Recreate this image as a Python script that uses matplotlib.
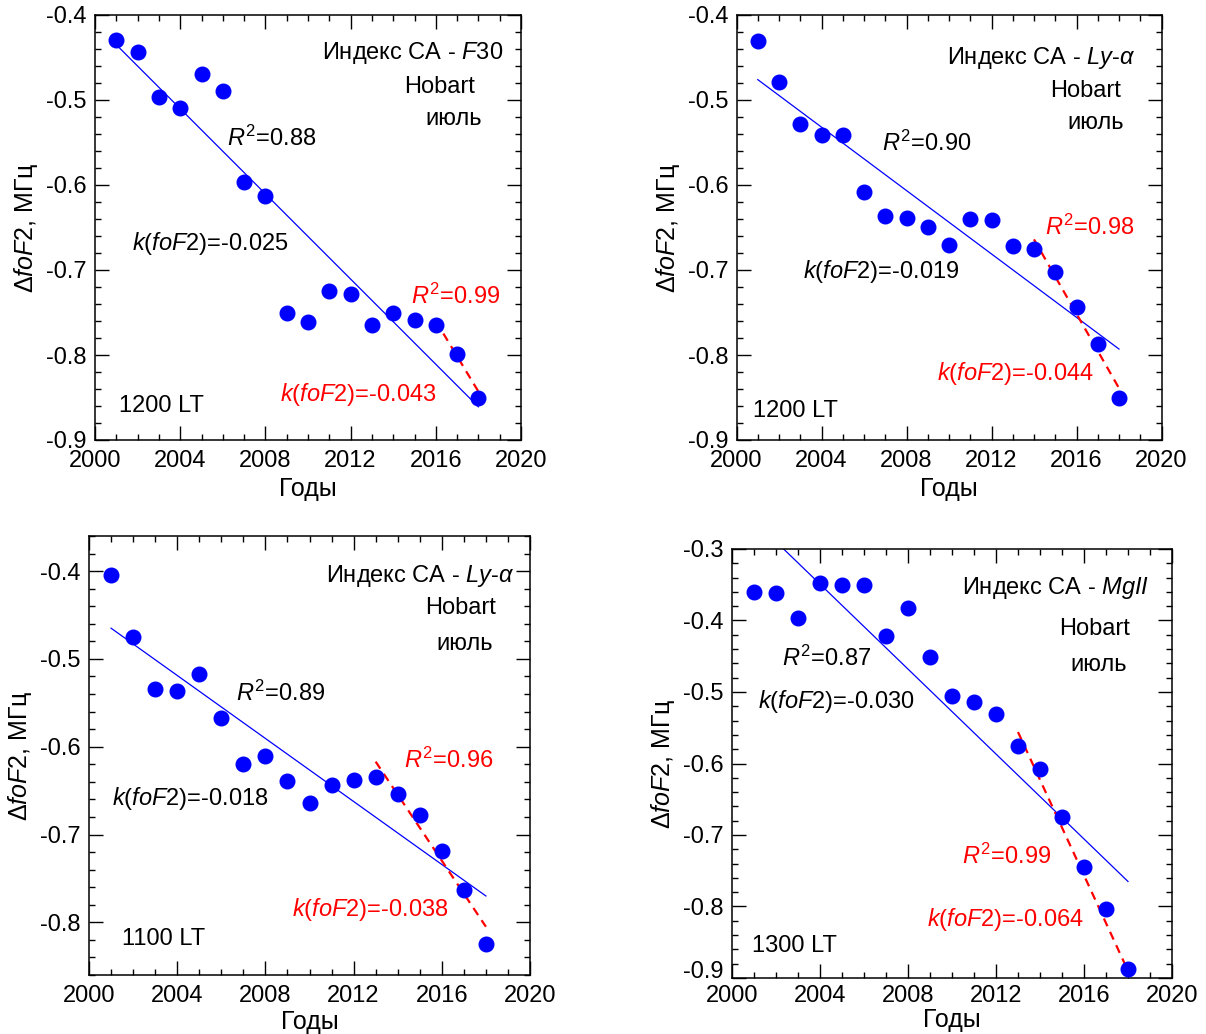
import numpy as np
import matplotlib
matplotlib.use('Agg')
import matplotlib.pyplot as plt
import matplotlib.transforms as mtransforms
from matplotlib.ticker import MultipleLocator

plt.rcParams['font.family'] = ['Liberation Sans', 'DejaVu Sans']
plt.rcParams['mathtext.fontset'] = 'custom'
plt.rcParams['mathtext.rm'] = 'Liberation Sans'
plt.rcParams['mathtext.it'] = 'Liberation Sans:italic'
plt.rcParams['axes.unicode_minus'] = False

years = np.arange(2001, 2019)

# dfoF2 values, MHz
dfof2_f30_1200 = [-0.430, -0.444, -0.497, -0.509, -0.469, -0.489, -0.596, -0.613, -0.750,
                  -0.761, -0.725, -0.728, -0.765, -0.750, -0.759, -0.765, -0.799, -0.851]
dfof2_lya_1200 = [-0.431, -0.479, -0.528, -0.541, -0.541, -0.608, -0.636, -0.639, -0.650,
                  -0.670, -0.640, -0.641, -0.672, -0.675, -0.702, -0.744, -0.787, -0.851]
dfof2_lya_1100 = [-0.404, -0.475, -0.534, -0.537, -0.517, -0.567, -0.620, -0.610, -0.639,
                  -0.664, -0.644, -0.638, -0.635, -0.654, -0.678, -0.719, -0.763, -0.825]
dfof2_mg_1300 = [-0.360, -0.361, -0.396, -0.348, -0.351, -0.351, -0.421, -0.382, -0.451,
                 -0.505, -0.514, -0.531, -0.576, -0.607, -0.675, -0.745, -0.804, -0.888]

# regression lines (ends)
fit_all_x = [2001, 2018]
fit_all_y = {'f30_1200': [-0.435, -0.861], 'lya_1200': [-0.476, -0.793],
             'lya_1100': [-0.465, -0.770], 'mg_1300': [-0.260, -0.765]}
fit_end_x = {'f30_1200': [2016, 2018], 'lya_1200': [2014, 2018],
             'lya_1100': [2013, 2018], 'mg_1300': [2013, 2018]}
fit_end_y = {'f30_1200': [-0.760, -0.843], 'lya_1200': [-0.664, -0.839],
             'lya_1100': [-0.617, -0.805], 'mg_1300': [-0.556, -0.890]}

titles = {'f30_1200': 'Индекс CA - $F$30', 'lya_1200': r'Индекс CA - $Ly$-$\alpha$',
          'lya_1100': r'Индекс CA - $Ly$-$\alpha$', 'mg_1300': 'Индекс CA - $MgII$'}
r2_all = {'f30_1200': '0.88', 'lya_1200': '0.90', 'lya_1100': '0.89', 'mg_1300': '0.87'}
k_all = {'f30_1200': '-0.025', 'lya_1200': '-0.019', 'lya_1100': '-0.018', 'mg_1300': '-0.030'}
r2_end = {'f30_1200': '0.99', 'lya_1200': '0.98', 'lya_1100': '0.96', 'mg_1300': '0.99'}
k_end = {'f30_1200': '-0.043', 'lya_1200': '-0.044', 'lya_1100': '-0.038', 'mg_1300': '-0.064'}
lt = {'f30_1200': '1200 LT', 'lya_1200': '1200 LT', 'lya_1100': '1100 LT', 'mg_1300': '1300 LT'}

W, H = 1206, 1034
# name, data, axes box in pixels (left, top, right, bottom), ylim,
# x tick pad, x label pad, text positions
panels = [
    ('f30_1200', dfof2_f30_1200, (95, 15, 521, 440), (-0.9, -0.4), 7.5, 3.5,
     dict(title=(2019.17, -0.452), hob=(2016.2, -0.492), jul=(2016.84, -0.529),
          r2=(2006.22, -0.554), k=(2001.72, -0.676), r2e=(2014.83, -0.740),
          ke=(2008.70, -0.854), lt=(2001.15, -0.867))),
    ('lya_1200', dfof2_lya_1200, (736.5, 15, 1161.5, 440), (-0.9, -0.4), 7.5, 3.5,
     dict(title=(2018.79, -0.458), hob=(2016.43, -0.496), jul=(2016.92, -0.534),
          r2=(2006.84, -0.560), k=(2003.13, -0.710), r2e=(2014.52, -0.659),
          ke=(2009.43, -0.830), lt=(2000.78, -0.873))),
    ('lya_1100', dfof2_lya_1100, (89, 536, 530, 975), (-0.86, -0.36), 7.5, 2,
     dict(title=(2019.31, -0.412), hob=(2016.86, -0.449), jul=(2017.03, -0.490),
          r2=(2006.68, -0.548), k=(2001.04, -0.666), r2e=(2014.28, -0.624),
          ke=(2009.21, -0.793), lt=(2001.49, -0.826))),
    ('mg_1300', dfof2_mg_1300, (732, 549, 1172, 978), (-0.9, -0.3), 5, 1,
     dict(title=(2018.95, -0.3635), hob=(2016.47, -0.420), jul=(2016.67, -0.470),
          r2=(2002.28, -0.463), k=(2001.18, -0.522), r2e=(2010.44, -0.741),
          ke=(2008.86, -0.827), lt=(2000.91, -0.863))),
]

fs = 17
fig = plt.figure(figsize=(W / 100, H / 100), dpi=100)

for name, vals, (l, t, r, b), ylim, xpad, xlpad, pos in panels:
    ax = fig.add_axes([l / W, 1 - b / H, (r - l) / W, (b - t) / H])
    ax.plot(fit_all_x, fit_all_y[name], color='blue', lw=0.9)
    ax.plot(fit_end_x[name], fit_end_y[name], color='red', lw=1.6, ls=(0, (3.8, 2.8)))
    ax.plot(years, vals, 'o', color='blue', ms=10.5, mec='blue', zorder=3)

    ax.set_xlim(2000, 2020)
    ax.set_ylim(*ylim)
    ax.xaxis.set_major_locator(MultipleLocator(4))
    ax.xaxis.set_minor_locator(MultipleLocator(1))
    ax.yaxis.set_major_locator(MultipleLocator(0.1))
    ax.yaxis.set_minor_locator(MultipleLocator(0.02))
    ax.yaxis.set_major_formatter(matplotlib.ticker.FormatStrFormatter('%.1f'))
    ax.tick_params(which='both', direction='in', top=True, right=True, width=1.0,
                   labelsize=17)
    ax.tick_params(which='major', length=10, pad=6)
    ax.tick_params(axis='x', which='major', pad=xpad)
    ax.tick_params(which='minor', length=4.5)
    for s in ax.spines.values():
        s.set_linewidth(1.1)
    ax.set_xlabel('Годы', fontsize=18, labelpad=xlpad)
    ax.set_ylabel(r'$\mathit{\Delta foF}$2, МГц', fontsize=18, labelpad=4)

    if name == 'mg_1300':
        # the bottom y label sits a little above its tick in the original
        fig.canvas.draw()
        for lab in ax.get_yticklabels():
            if lab.get_text() == '-0.9':
                lab.set_transform(lab.get_transform() +
                                  mtransforms.ScaledTranslation(0, 6 / 72,
                                                                fig.dpi_scale_trans))

    ax.text(*pos['title'], titles[name], fontsize=fs, ha='right', va='baseline')
    ax.text(*pos['hob'], 'Hobart', fontsize=fs, ha='center', va='baseline')
    ax.text(*pos['jul'], 'июль', fontsize=fs, ha='center', va='baseline')
    ax.text(*pos['r2'], r'$R^{\mathrm{2}}$=' + r2_all[name], fontsize=fs, va='baseline')
    ax.text(*pos['k'], '$k$($foF$2)=' + k_all[name], fontsize=fs, va='baseline')
    ax.text(*pos['r2e'], r'$R^{\mathrm{2}}$=' + r2_end[name], fontsize=fs,
            va='baseline', color='red')
    ax.text(*pos['ke'], '$k$($foF$2)=' + k_end[name], fontsize=fs,
            va='baseline', color='red')
    ax.text(*pos['lt'], lt[name], fontsize=fs, va='baseline')

fig.savefig('out.png', dpi=100)
